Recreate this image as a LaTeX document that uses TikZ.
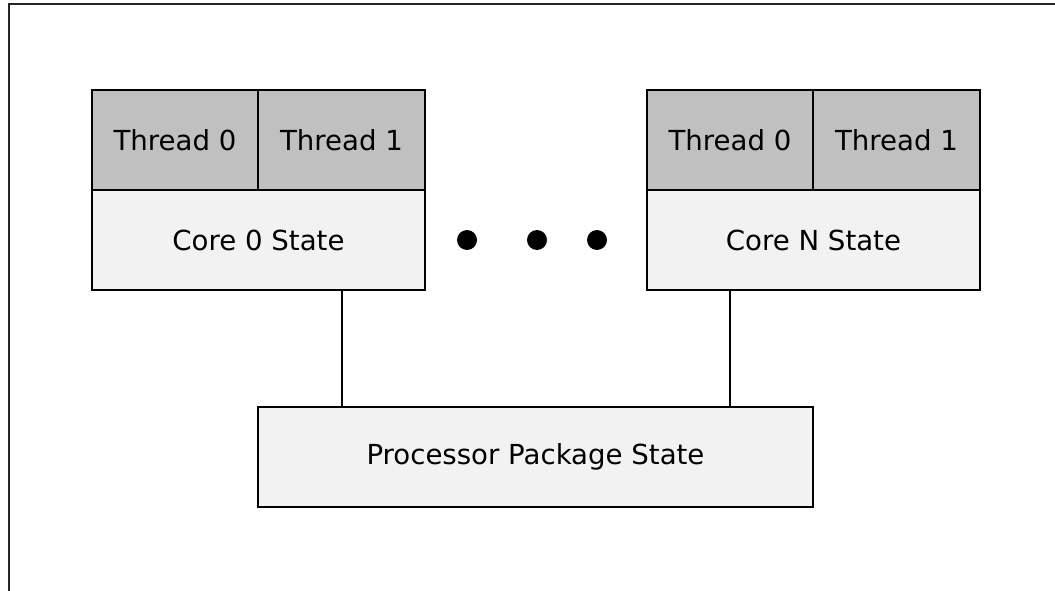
\documentclass[tikz,border=0pt]{standalone}
\usepackage{fontspec}
\setmainfont{DejaVu Sans}
\begin{document}
\begin{tikzpicture}[x=1pt,y=-1pt,
  thr/.style={draw=black,line width=1.3pt,fill={rgb,255:red,192;green,192;blue,192}},
  corebox/.style={draw=black,line width=1.3pt,fill={rgb,255:red,242;green,242;blue,242}},
  lbl/.style={font=\fontsize{27.6}{33}\selectfont,inner sep=0pt,anchor=center},
  link/.style={line width=2.6pt,black},
  dot/.style={circle,fill=black,minimum size=20pt,inner sep=0pt}]
\useasboundingbox (0,0) rectangle (1055,591);
% frame
\draw[line width=2pt,black!85] (1055,4) -- (9,4) -- (9,591);
% core 0
\draw[thr] (92,90) rectangle (258,190);
\draw[thr] (258,90) rectangle (425,190);
\draw[corebox] (92,190) rectangle (425,290);
\node[lbl] (c0t0) at (175,140) {Thread 0};
\node[lbl] (c0t1) at (341.5,140) {Thread 1};
\node[lbl] (c0s) at (258.5,240) {Core 0 State};
% core N
\draw[thr] (647,90) rectangle (813,190);
\draw[thr] (813,90) rectangle (980,190);
\draw[corebox] (647,190) rectangle (980,290);
\node[lbl] (cNt0) at (730,140) {Thread 0};
\node[lbl] (cNt1) at (896.5,140) {Thread 1};
\node[lbl] (cNs) at (813.5,240) {Core N State};
% package
\draw[corebox] (258,407) rectangle (813,507);
\node[lbl] (pkg) at (535.5,457) {Processor Package State};
% dots
\node[dot] (d1) at (467,240) {};
\node[dot] (d2) at (537,240) {};
\node[dot] (d3) at (597,240) {};
% connectors
\coordinate (a0) at (342,290);
\coordinate (b0) at (342,407);
\coordinate (aN) at (730,290);
\coordinate (bN) at (730,407);
\draw[link] (a0) -- (b0);
\draw[link] (aN) -- (bN);
\end{tikzpicture}
\end{document}
